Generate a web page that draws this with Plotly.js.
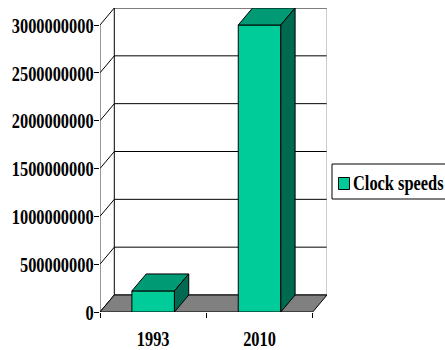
<!DOCTYPE html>
<html>
<head>
<meta charset="utf-8">
<script src="https://cdn.plot.ly/plotly-3.0.1.min.js"></script>
<style>
  html, body { margin: 0; padding: 0; background: #ffffff; }
  #chart { width: 445px; height: 350px; }
</style>
</head>
<body>
<div id="chart"></div>
<script>
// Processor clock speeds (Hz)
const years = ['1993', '2010'];
const clockSpeeds = [220000000, 3000000000];
const seriesName = 'Clock speeds';
const valueTicks = [0, 500000000, 1000000000, 1500000000, 2000000000, 2500000000, 3000000000];

// Colours of the three visible faces of each column
const frontColor = '#00CC99';
const topColor = '#009A74';
const sideColor = '#006A50';
const floorColor = '#808080';

// Canvas and plot-area geometry (pixels)
const W = 445, H = 350;
const margin = { l: 100, r: 118, t: 8, b: 38 };
const plotW = W - margin.l - margin.r;
const plotH = H - margin.t - margin.b;

// Oblique depth of the 3-D box, in pixels
const depthPx = { x: 14.3, y: 17 };

// Axis ranges: the front face spans the categories and 0..max tick,
// the remaining room is taken by the receding depth.
const nCat = years.length;
const yMax = valueTicks[valueTicks.length - 1];
const yUnitsPerPx = yMax / (plotH - depthPx.y);
const dyu = depthPx.y * yUnitsPerPx;
const xUnitsPerPx = nCat / (plotW - depthPx.x);
const dxu = depthPx.x * xUnitsPerPx;

const xs = years.map((_, i) => i + 0.5);
const barW = 0.4;

const line = { color: '#000000', width: 1 };
const traces = [];

// Front faces of the columns
traces.push({
  type: 'bar',
  x: xs,
  y: clockSpeeds,
  width: barW,
  name: seriesName,
  marker: { color: frontColor, line: line },
  showlegend: false,
  hoverinfo: 'skip'
});

// Top and right-hand faces, projected back by the depth offset
xs.forEach((c, i) => {
  const v = clockSpeeds[i];
  const xl = c - barW / 2, xr = c + barW / 2;
  traces.push({
    type: 'scatter', mode: 'lines', fill: 'toself',
    x: [xl, xr, xr + dxu, xl + dxu, xl],
    y: [v, v, v + dyu, v + dyu, v],
    fillcolor: topColor, line: line, showlegend: false, hoverinfo: 'skip'
  });
  traces.push({
    type: 'scatter', mode: 'lines', fill: 'toself',
    x: [xr, xr + dxu, xr + dxu, xr, xr],
    y: [0, dyu, v + dyu, v, 0],
    fillcolor: sideColor, line: line, showlegend: false, hoverinfo: 'skip'
  });
});

// Back wall, gridlines, tick connectors and floor
const shapes = [];
valueTicks.forEach(v => {
  shapes.push({ type: 'line', layer: 'below', xref: 'x', yref: 'y',
    x0: dxu, y0: v + dyu, x1: nCat + dxu, y1: v + dyu, line: line });
  shapes.push({ type: 'line', layer: 'below', xref: 'x', yref: 'y',
    x0: 0, y0: v, x1: dxu, y1: v + dyu, line: line });
});
shapes.push({ type: 'line', layer: 'below', xref: 'x', yref: 'y',
  x0: dxu, y0: dyu, x1: dxu, y1: yMax + dyu, line: line });
shapes.push({ type: 'line', layer: 'below', xref: 'x', yref: 'y',
  x0: nCat + dxu, y0: dyu, x1: nCat + dxu, y1: yMax + dyu,
  line: { color: '#9a9a9a', width: 1 } });
shapes.push({ type: 'line', layer: 'below', xref: 'x', yref: 'y',
  x0: 0, y0: 0, x1: 0, y1: yMax, line: { color: '#333333', width: 1 } });
shapes.push({ type: 'path', layer: 'below', xref: 'x', yref: 'y',
  path: `M 0,0 L ${nCat},0 L ${nCat + dxu},${dyu} L ${dxu},${dyu} Z`,
  fillcolor: floorColor, line: line });

// Legend box with its swatch
const px2paperX = px => (px - margin.l) / plotW;
const px2paperY = py => (H - margin.b - py) / plotH;
shapes.push({ type: 'rect', xref: 'paper', yref: 'paper',
  x0: px2paperX(332), x1: px2paperX(452), y0: px2paperY(199), y1: px2paperY(164),
  fillcolor: '#ffffff', line: { color: '#000000', width: 1 } });
shapes.push({ type: 'rect', xref: 'paper', yref: 'paper',
  x0: px2paperX(338.5), x1: px2paperX(349.5), y0: px2paperY(189.5), y1: px2paperY(177.5),
  fillcolor: frontColor, line: { color: '#000000', width: 1 } });

const labelFont = { family: 'Liberation Serif, Times New Roman, serif', size: 22, color: '#000000', weight: 'bold' };

const layout = {
  width: W, height: H,
  margin: margin,
  paper_bgcolor: '#ffffff',
  plot_bgcolor: 'rgba(0,0,0,0)',
  showlegend: false,
  xaxis: {
    range: [0, nCat + dxu],
    showgrid: false, zeroline: false, showline: false,
    tickmode: 'array', tickvals: xs, ticktext: years,
    ticks: '', tickfont: labelFont, ticklabelstandoff: 11,
    minor: { tickmode: 'array', tickvals: years.map((_, i) => i).concat([nCat]),
             ticks: 'outside', ticklen: 5, tickcolor: '#000000', tickwidth: 1, showgrid: false },
    fixedrange: true
  },
  yaxis: {
    range: [0, yMax + dyu],
    showgrid: false, zeroline: false, showline: false,
    tickmode: 'array', tickvals: valueTicks, ticktext: valueTicks.map(String),
    ticks: 'outside', ticklen: 5, tickcolor: '#000000', tickwidth: 1,
    tickfont: labelFont,
    fixedrange: true
  },
  shapes: shapes,
  annotations: [{
    xref: 'paper', yref: 'paper',
    x: px2paperX(351), y: px2paperY(182),
    xanchor: 'left', yanchor: 'middle',
    text: seriesName, showarrow: false,
    font: labelFont
  }]
};

// Narrow the bold serif labels horizontally (condensed lettering),
// optionally nudging them sideways
function condense(selector, anchor, k, shift) {
  document.querySelectorAll(selector).forEach(t => {
    const b = t.getBBox();
    const ax = anchor === 'end' ? b.x + b.width : anchor === 'start' ? b.x : b.x + b.width / 2;
    const prev = t.getAttribute('transform') || '';
    t.setAttribute('transform',
      `${prev} translate(${ax + (shift || 0)},0) scale(${k},1) translate(${-ax},0)`);
  });
}

Plotly.newPlot('chart', traces, layout, { displayModeBar: false, staticPlot: true }).then(() => {
  condense('.ytick text', 'end', 0.745, 4);
  condense('.xtick text', 'middle', 0.745, 0);
  condense('.annotation-text', 'start', 0.745, 0);
});
</script>
</body>
</html>
